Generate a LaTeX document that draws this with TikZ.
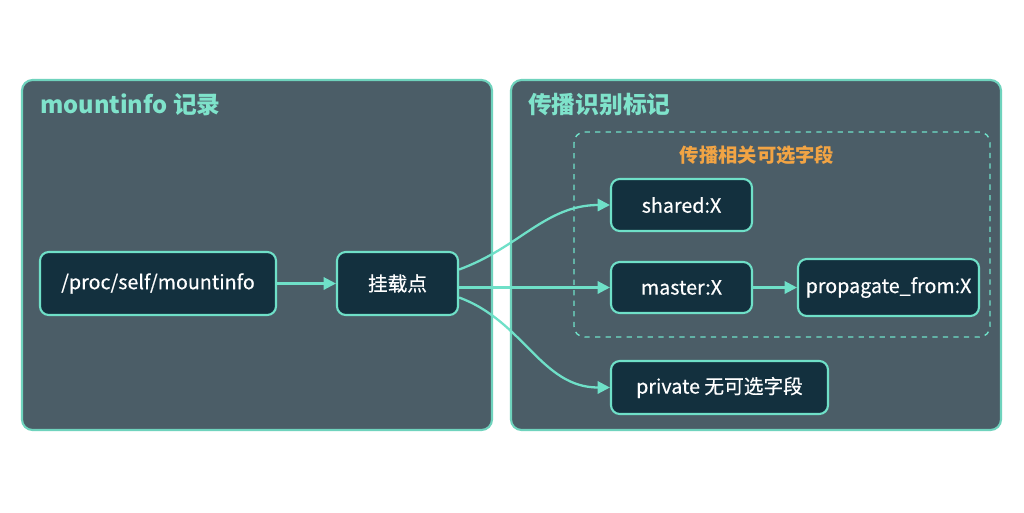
\documentclass[tikz,border=0pt]{standalone}
\usepackage{fontspec}
\setmainfont{Noto Sans CJK SC}
\newfontfamily\medfont{Noto Sans CJK SC}[FakeBold=0.5]
\usetikzlibrary{positioning,arrows.meta}
\definecolor{panelbg}{HTML}{4B5D67}
\definecolor{panelline}{HTML}{6FD3BD}
\definecolor{boxbg}{HTML}{13303E}
\definecolor{boxline}{HTML}{6FE0C8}
\definecolor{titleteal}{HTML}{7FE3CB}
\definecolor{titleorange}{HTML}{F2A444}
\tikzset{
  panel/.style={draw=panelline,line width=1.2pt,fill=panelbg,rounded corners=6pt},
  field/.style={draw=boxline,line width=1.2pt,fill=boxbg,rounded corners=5pt,text=white,font=\medfont\fontsize{11.2}{13}\selectfont,inner sep=0pt},
  link/.style={draw=boxline,line width=1.3pt,-{Triangle[length=7pt,width=7pt]}}
}
\begin{document}
\begin{tikzpicture}[x=0.02cm,y=-0.02cm]
\useasboundingbox[fill=white] (0,0) rectangle (1024,512);
%panels
\draw[panel] (22,80) rectangle (492,430);
\draw[panel] (511,80) rectangle (1001,430);
\node[anchor=west,text=titleteal,font=\bfseries\fontsize{13.5}{15}\selectfont] (lefttitle) at (34,105) {mountinfo 记录};
\node[anchor=west,text=titleteal,font=\bfseries\fontsize{13.5}{15}\selectfont] (righttitle) at (522,105) {传播识别标记};
%optional fields
\draw[boxline,dashed,line width=0.8pt,rounded corners=6pt] (574,132) rectangle (990,337);
\node[text=titleorange,font=\bfseries\fontsize{11}{12}\selectfont] (opttitle) at (757,155) {传播相关可选字段};
%fields
\node[field,minimum width=236*0.02cm,minimum height=63*0.02cm] (proc) at (158,283.5) {/proc/self/mountinfo};
\node[field,minimum width=121*0.02cm,minimum height=63*0.02cm] (mount) at (397.5,283.5) {挂载点};
\node[field,minimum width=141*0.02cm,minimum height=52*0.02cm] (shared) at (681.5,205) {shared:X};
\node[field,minimum width=141*0.02cm,minimum height=51*0.02cm] (master) at (681.5,287.5) {master:X};
\node[field,minimum width=181*0.02cm,minimum height=57*0.02cm] (prop) at (888.5,287.5) {propagate\_from:X};
\node[field,minimum width=217*0.02cm,minimum height=53*0.02cm] (private) at (719.5,387.5) {private 无可选字段};
%arrows
\draw[link] (mount.east) ++(0,-14) to[out=20,in=180] (shared.west);
\draw[link] (mount.east) ++(0,4) -- (master.west);
\draw[link] (mount.east) ++(0,14) to[out=-20,in=180] (private.west);
\draw[link] (proc) -- (mount);
\draw[link] (master) -- (prop);
\end{tikzpicture}
\end{document}
